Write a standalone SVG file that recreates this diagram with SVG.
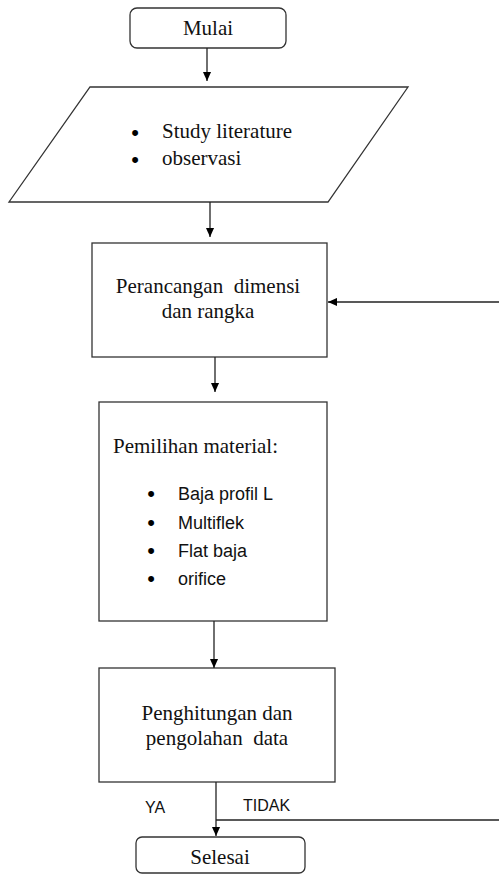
<svg xmlns="http://www.w3.org/2000/svg" width="499" height="874" viewBox="0 0 499 874">
<defs>
<marker id="ah" viewBox="0 0 10 10" refX="10" refY="5" markerWidth="9" markerHeight="9" markerUnits="userSpaceOnUse" orient="auto">
<path d="M0,0.5 L10,5 L0,9.5 Z" fill="#000"/>
</marker>
</defs>
<style>
.shape{fill:#fff;stroke:#333;stroke-width:1.3}
.serif{font-family:"Liberation Serif","Times New Roman",serif;font-size:21px;fill:#111}
.sans{font-family:"Liberation Sans",Arial,sans-serif;font-size:18px;fill:#111}
.bul{font-family:"Liberation Sans",Arial,sans-serif;font-size:22px;fill:#000}
.lbl{font-family:"Liberation Sans",Arial,sans-serif;font-size:16px;fill:#111}
.conn{fill:none;stroke:#222;stroke-width:1.3}
</style>
<rect width="499" height="874" fill="#fff"/>
<g id="mulai">
<rect class="shape" x="130" y="8" width="156" height="40" rx="7"/>
<text class="serif" x="208" y="35" text-anchor="middle">Mulai</text>
</g>
<g id="input">
<polygon class="shape" points="90,87 408,87 328,202 9,202"/>
<text class="bul" x="135" y="140" text-anchor="middle">•</text>
<text class="serif" x="162" y="138">Study literature</text>
<text class="bul" x="135" y="167" text-anchor="middle">•</text>
<text class="serif" x="162" y="165">observasi</text>
</g>
<g id="perancangan">
<rect class="shape" x="92" y="243" width="235" height="114"/>
<text class="serif" x="208" y="293" text-anchor="middle" xml:space="preserve">Perancangan  dimensi</text>
<text class="serif" x="208" y="318" text-anchor="middle">dan rangka</text>
</g>
<g id="pemilihan">
<rect class="shape" x="99" y="402" width="228" height="219"/>
<text class="serif" x="113" y="453">Pemilihan material:</text>
<text class="bul" x="151" y="501" text-anchor="middle">•</text>
<text class="sans" x="178" y="500">Baja profil L</text>
<text class="bul" x="151" y="530" text-anchor="middle">•</text>
<text class="sans" x="178" y="529">Multiflek</text>
<text class="bul" x="151" y="558" text-anchor="middle">•</text>
<text class="sans" x="178" y="557">Flat baja</text>
<text class="bul" x="151" y="586" text-anchor="middle">•</text>
<text class="sans" x="178" y="585">orifice</text>
</g>
<g id="penghitungan">
<rect class="shape" x="99" y="668" width="236" height="114"/>
<text class="serif" x="217" y="720" text-anchor="middle">Penghitungan dan</text>
<text class="serif" x="217" y="745" text-anchor="middle" xml:space="preserve">pengolahan  data</text>
</g>
<g id="selesai">
<rect class="shape" x="136" y="837" width="169" height="36" rx="6"/>
<text class="serif" x="220" y="864" text-anchor="middle">Selesai</text>
</g>
<g id="connectors">
<line class="conn" x1="207" y1="48" x2="207" y2="81" marker-end="url(#ah)"/>
<line class="conn" x1="210" y1="202" x2="210" y2="237" marker-end="url(#ah)"/>
<line class="conn" x1="215" y1="357" x2="215" y2="392" marker-end="url(#ah)"/>
<line class="conn" x1="214" y1="621" x2="214" y2="668" marker-end="url(#ah)"/>
<line class="conn" x1="216" y1="782" x2="216" y2="836" marker-end="url(#ah)"/>
<polyline class="conn" points="216,820 499,820"/>
<line class="conn" x1="499" y1="302" x2="328" y2="302" marker-end="url(#ah)"/>
<text class="lbl" x="145" y="813">YA</text>
<text class="lbl" x="243" y="811">TIDAK</text>
</g>
</svg>
